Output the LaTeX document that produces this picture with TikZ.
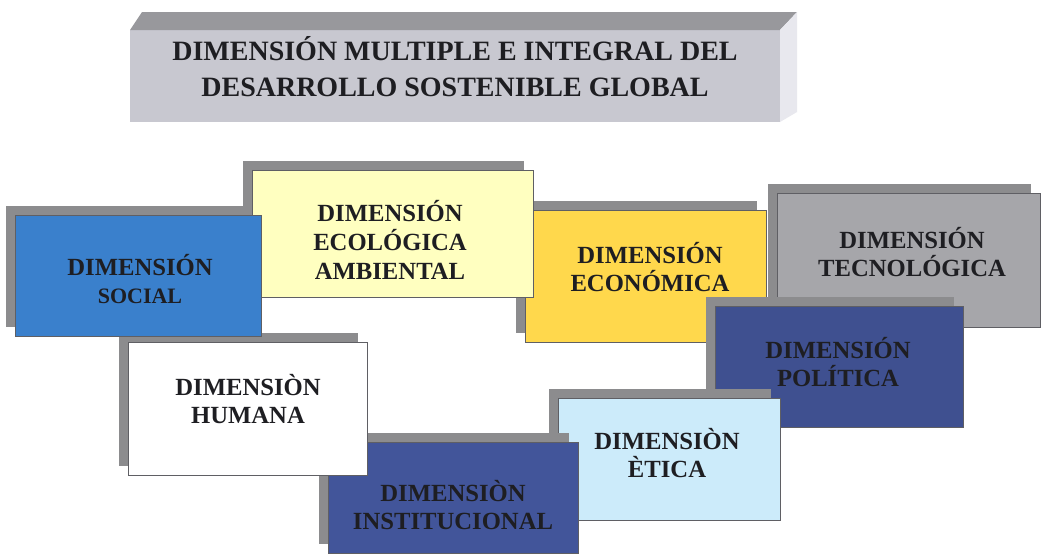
\documentclass[tikz,border=0pt]{standalone}
\usepackage{fontspec}
\setmainfont{Liberation Serif}
\usetikzlibrary{shadows,calc}
\definecolor{shadowgray}{RGB}{140,140,142}
\definecolor{edgegray}{RGB}{95,95,100}
\definecolor{textdark}{RGB}{30,30,34}
\definecolor{titlefront}{RGB}{200,200,208}
\definecolor{titletop}{RGB}{152,152,156}
\definecolor{titleside}{RGB}{232,232,238}
\definecolor{socialblue}{RGB}{58,128,204}
\definecolor{ecoyellow}{RGB}{255,255,192}
\definecolor{econyellow}{RGB}{255,216,76}
\definecolor{tecgray}{RGB}{166,166,170}
\definecolor{polblue}{RGB}{63,80,144}
\definecolor{eticablue}{RGB}{204,235,250}
\definecolor{insblue}{RGB}{66,85,154}
\newcommand\dimfnt{\bfseries\fontsize{18.5}{21.5}\selectfont}
\newcommand\dimsmall{\fontsize{16.5}{21.5}\selectfont}
\newcommand\titfnt{\bfseries\fontsize{21}{27}\selectfont}
\tikzset{
  face/.style={draw=edgegray, line width=0.4pt, inner sep=0pt, outer sep=0pt},
  dimbox/.style n args={3}{face, fill=#1, minimum width=#2*0.75pt, minimum height=#3*0.75pt,
    general shadow={fill=shadowgray, shadow xshift=-6.75pt, shadow yshift=6.4pt}},
  dimtext/.style={font=\dimfnt, text=textdark, align=center, inner sep=0pt},
  titletext/.style={font=\titfnt, text=textdark, align=center, inner sep=0pt},
}
\begin{document}
\begin{tikzpicture}[x=0.75pt,y=-0.75pt]
\useasboundingbox (0,0) rectangle (1044,553);
\fill[white] (0,0) rectangle (1044,553);

% title bar
\node[inner sep=0pt, outer sep=0pt, fill=titlefront, minimum width=650*0.75pt, minimum height=92*0.75pt] (title) at (455,76) {};
\fill[titletop] (title.north west) -- ++(12,-18) -- ($(title.north east)+(17,-18)$) -- (title.north east) -- cycle;
\fill[titleside] (title.north east) -- ++(17,-18) -- ++(0,100) -- (title.south east) -- cycle;
\node[titletext] (titletxt) at (455,67) {DIMENSIÓN MULTIPLE E INTEGRAL DEL\\DESARROLLO SOSTENIBLE GLOBAL};

% boxes, back to front
\node[dimbox={tecgray}{263}{134}] (tec) at (908.5,260) {};
\node[dimtext] (tectxt) at (912,252) {DIMENSIÓN\\TECNOLÓGICA};

\node[dimbox={econyellow}{241}{132}] (econ) at (645.5,276) {};
\node[dimtext] (econtxt) at (650,267) {DIMENSIÓN\\ECONÓMICA};

\node[dimbox={polblue}{248}{121}] (pol) at (839,366.5) {};
\node[dimtext] (poltxt) at (838,362) {DIMENSIÓN\\POLÍTICA};

\node[dimbox={eticablue}{222}{122}] (eti) at (669,459) {};
\node[dimtext] (etitxt) at (667,453) {DIMENSIÒN\\ÈTICA};

\node[dimbox={insblue}{250}{111}] (ins) at (453,497.5) {};
\node[dimtext] (instxt) at (453,505) {DIMENSIÒN\\INSTITUCIONAL};

\node[dimbox={white}{239}{133}] (hum) at (247.5,408.5) {};
\node[dimtext] (humtxt) at (248,399) {DIMENSIÒN\\HUMANA};

\node[dimbox={ecoyellow}{281}{127}] (eco) at (392.5,233.5) {};
\node[dimtext] (ecotxt) at (390,240) {DIMENSIÓN\\ECOLÓGICA\\AMBIENTAL};

\node[dimbox={socialblue}{246}{121}] (soc) at (138,275.5) {};
\node[dimtext] (soctxt) at (140,279) {DIMENSIÓN\\{\dimsmall SOCIAL}};
\end{tikzpicture}
\end{document}
